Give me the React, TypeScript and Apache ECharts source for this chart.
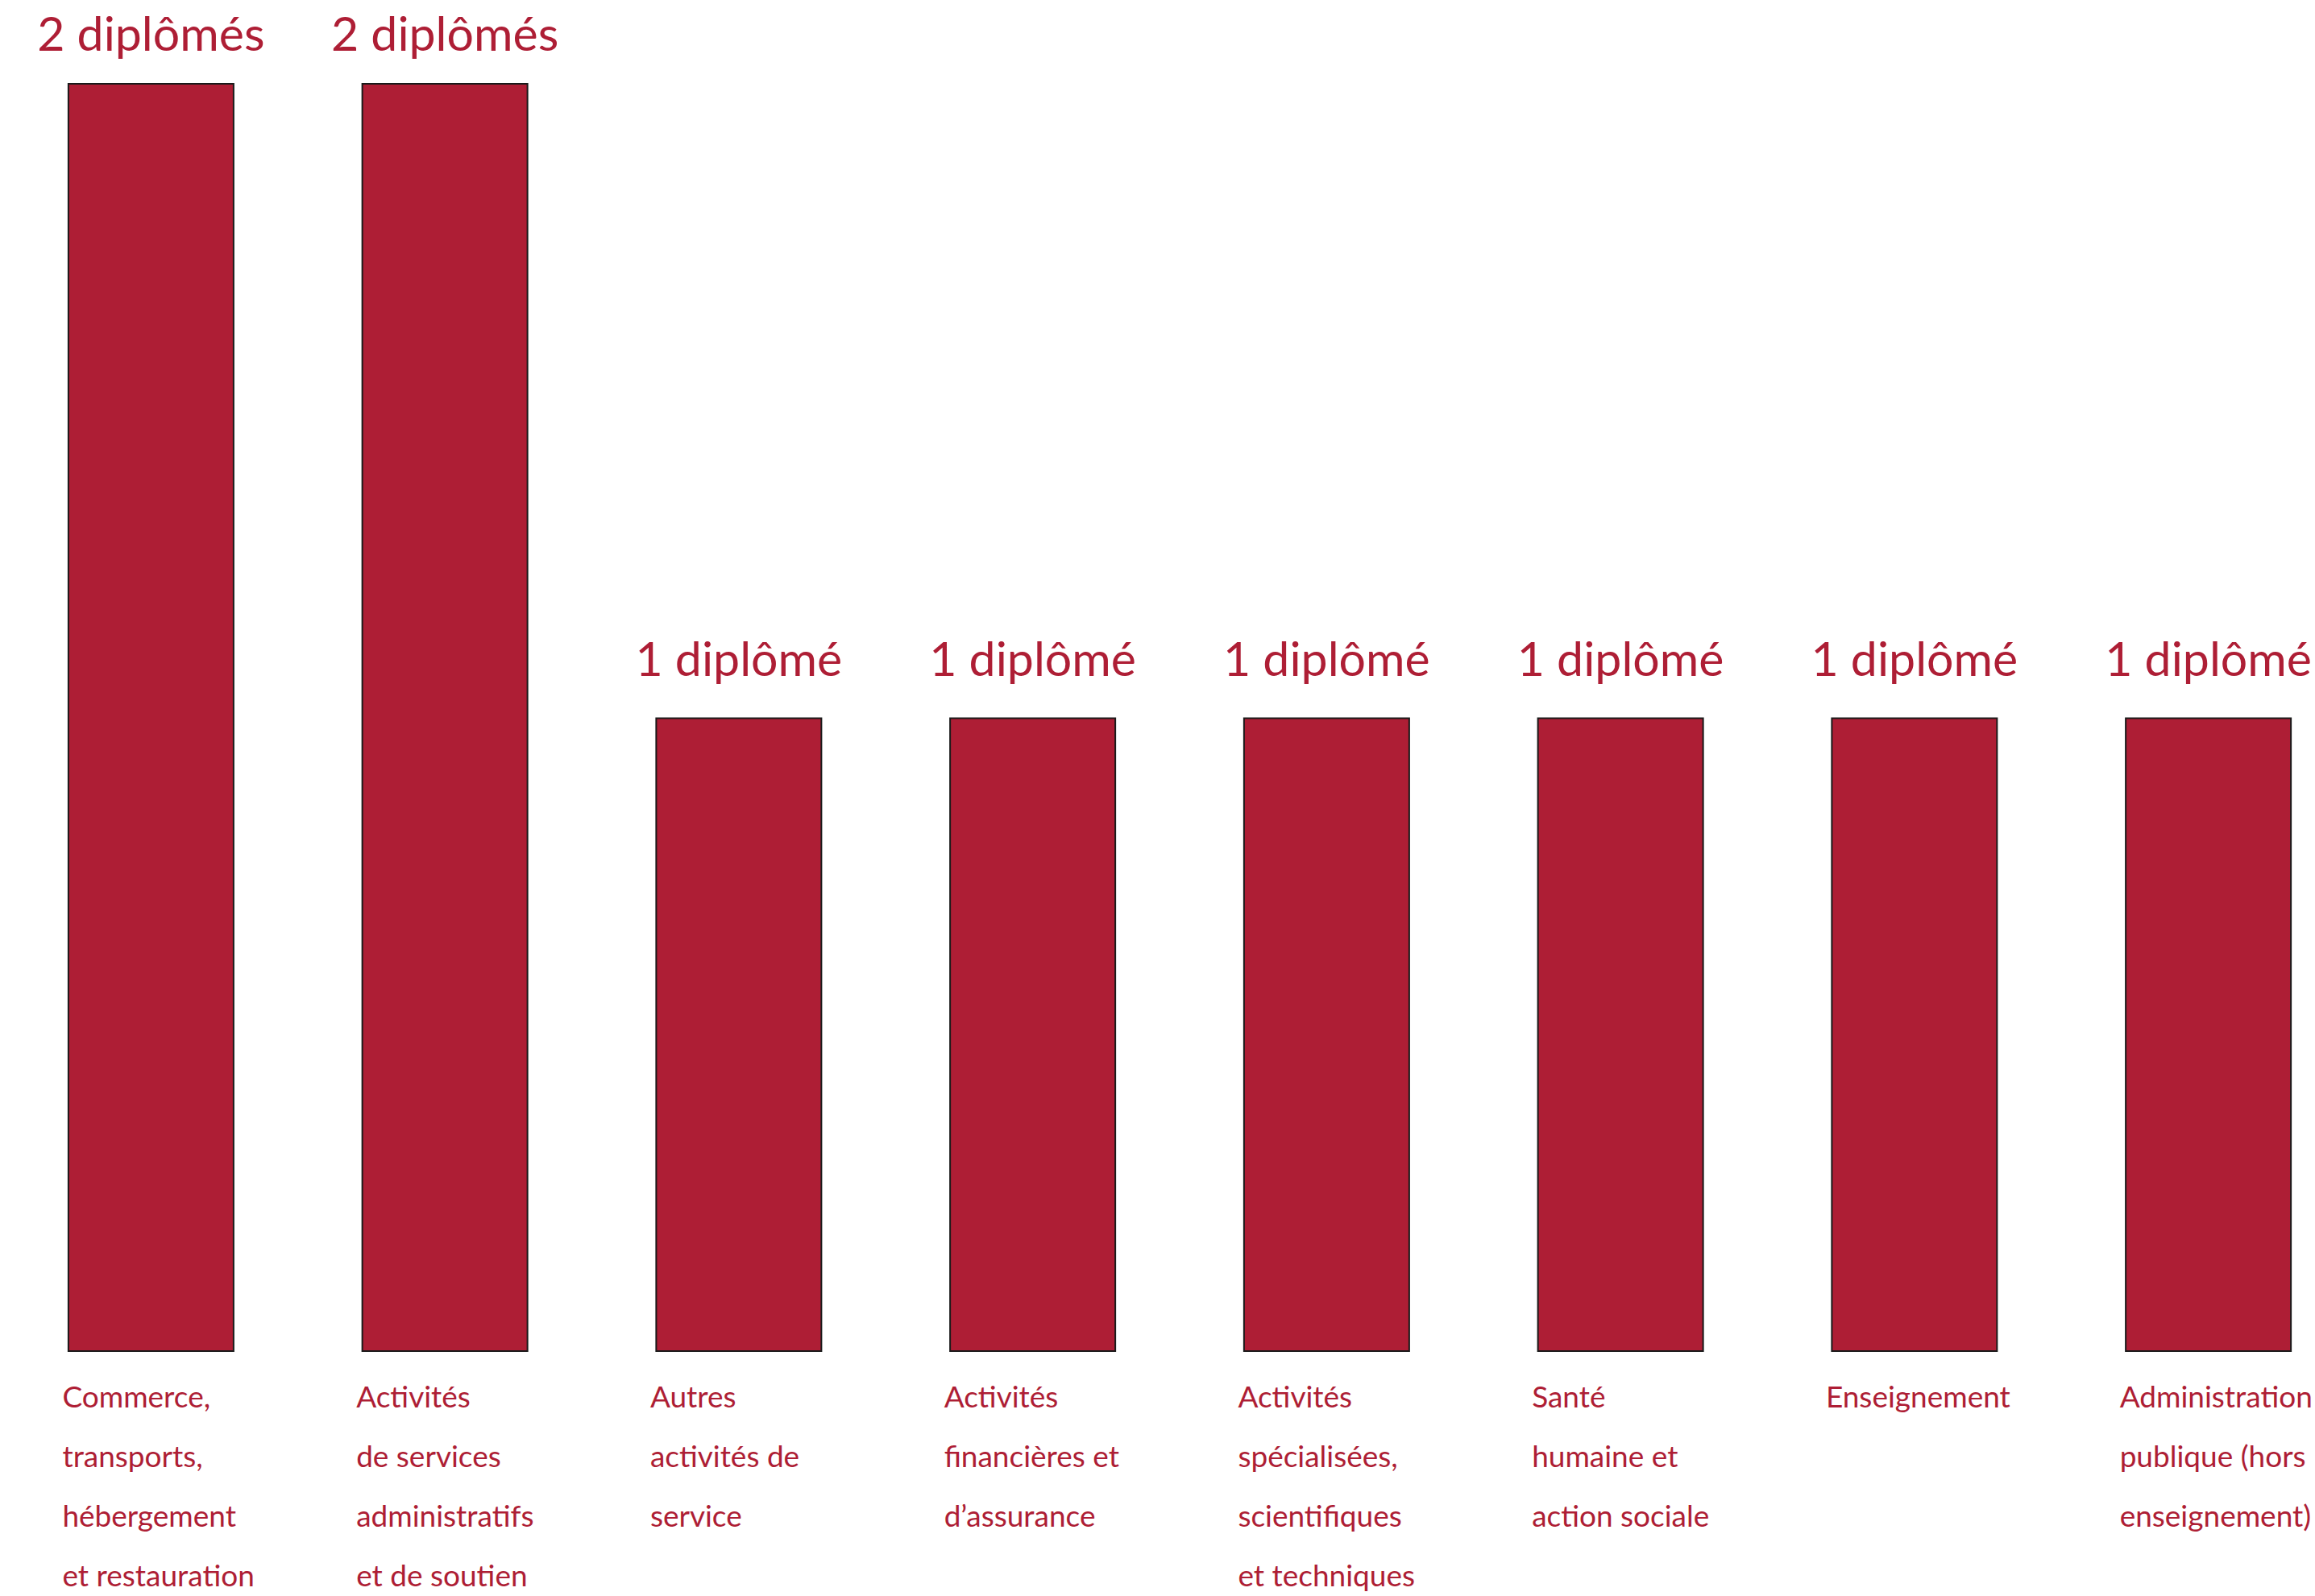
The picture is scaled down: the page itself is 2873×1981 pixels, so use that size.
import React, { useEffect, useRef } from "react";
import * as echarts from "echarts";

const categories = [
  "Commerce,\ntransports,\nhébergement\net restauration",
  "Activités\nde services\nadministratifs\net de soutien",
  "Autres\nactivités de\nservice",
  "Activités\nfinancières et\nd’assurance",
  "Activités\nspécialisées,\nscientifiques\net techniques",
  "Santé\nhumaine et\naction sociale",
  "Enseignement",
  "Administration\npublique (hors\nenseignement)",
];
const values = [2, 2, 1, 1, 1, 1, 1, 1];

const RED = "#AE1E35";
const FONT = "Lato, 'Open Sans', sans-serif";
const SHIFT = 120; // chart canvas extends left beyond the viewport

export default function App() {
  const ref = useRef<HTMLDivElement>(null);
  useEffect(() => {
    if (!ref.current) return;
    const chart = echarts.init(ref.current, undefined, { renderer: "svg" });
    const maxV = Math.max(...values);
    chart.setOption({
      animation: false,
      backgroundColor: "#ffffff",
      grid: [
        { left: 5 + SHIFT, top: 103, width: 2918, height: 1575, outerBoundsMode: "none", containLabel: false },
        { left: 5 + SHIFT - 110, top: 103, width: 2918, height: 1575, outerBoundsMode: "none", containLabel: false },
      ],
      xAxis: [
        {
          type: "category",
          gridIndex: 0,
          data: categories,
          axisLine: { show: false },
          axisTick: { show: false },
          axisLabel: { show: false },
        },
        {
          type: "category",
          gridIndex: 1,
          data: categories,
          axisLine: { show: false },
          axisTick: { show: false },
          axisLabel: {
            interval: 0,
            align: "left",
            verticalAlign: "top",
            margin: 17,
            color: RED,
            fontFamily: FONT,
            fontSize: 37,
            lineHeight: 74,
          },
        },
      ],
      yAxis: [
        { type: "value", gridIndex: 0, min: 0, max: 2, show: false },
        { type: "value", gridIndex: 1, min: 0, max: 2, show: false },
      ],
      series: [
        {
          type: "bar",
          xAxisIndex: 0,
          yAxisIndex: 0,
          data: values.map((v) => ({
            value: v,
            label: { distance: v === maxV ? 31 : 42 },
          })),
          barWidth: 207,
          itemStyle: { color: RED, borderColor: "#1a1a1a", borderWidth: 2 },
          label: {
            show: true,
            position: "top",
            color: RED,
            fontFamily: FONT,
            fontSize: 59,
            lineHeight: 64,
            formatter: (p: any) => `${p.value} diplômé${p.value > 1 ? "s" : ""}`,
          },
        },
      ],
    });
    return () => chart.dispose();
  }, []);
  return (
    <div
      style={{
        position: "fixed",
        left: 0,
        top: 0,
        width: "100vw",
        height: "100vh",
        overflow: "hidden",
        background: "#ffffff",
      }}
    >
      <div
        ref={ref}
        style={{ position: "absolute", left: -SHIFT, top: 0, width: 3100, height: "100%" }}
      />
    </div>
  );
}
